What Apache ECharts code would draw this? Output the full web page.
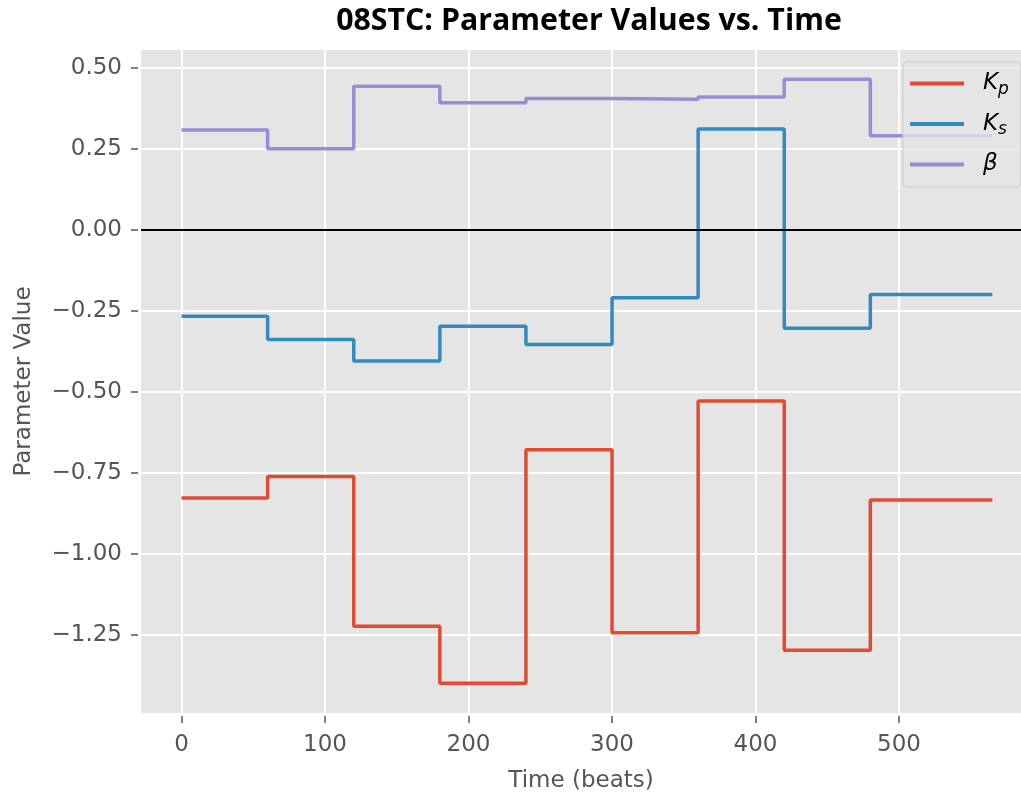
<!DOCTYPE html>
<html>
<head>
<meta charset="utf-8">
<script src="https://cdn.jsdelivr.net/npm/echarts@6/dist/echarts.min.js"></script>
<style>
html,body{margin:0;padding:0;background:#fff;}
#chart{width:1021px;height:796px;}
</style>
</head>
<body>
<div id="chart"></div>
<script>
// ---- data ----
const segmentStarts = [0, 60, 120, 180, 240, 300, 360, 420, 480];
const endTime = 565;
const kpValues   = [-0.828, -0.762, -1.224, -1.400, -0.679, -1.244, -0.529, -1.298, -0.834];
const ksValues   = [-0.267, -0.339, -0.405, -0.298, -0.354, -0.210, 0.311, -0.304, -0.200];
const betaValues = [0.308, 0.250, 0.443, 0.392, 0.405, 0.403, 0.410, 0.465, 0.290];
const xTicks = [0, 100, 200, 300, 400, 500];
const yTicks = [-1.25, -1.00, -0.75, -0.50, -0.25, 0.00, 0.25, 0.50];

function stepData(vals) {
  const d = segmentStarts.map((s, i) => [s, vals[i]]);
  d.push([endTime, vals[vals.length - 1]]);
  return d;
}

const chart = echarts.init(document.getElementById('chart'), null, {renderer: 'canvas'});
const tickFont = 'DejaVu Sans';
const gray = '#555555';

const option = {
  animation: false,
  backgroundColor: '#ffffff',
  title: {
    text: '08STC: Parameter Values vs. Time',
    left: 584, top: 1, textAlign: 'center',
    textStyle: {fontFamily: 'Open Sans', fontWeight: 'bold', fontSize: 30.3, color: '#000'}
  },
  grid: {left: 141, right: 0, top: 50, bottom: 83, show: true, backgroundColor: '#E5E5E5', borderWidth: 0,
    containLabel: false, outerBoundsMode: 'none'},
  legend: {
    left: 903, top: 62, orient: 'vertical',
    data: ['Kp', 'Ks', 'beta'],
    icon: 'rect', itemWidth: 54, itemHeight: 4, itemGap: 14.5,
    padding: [10, 12, 11, 7],
    backgroundColor: 'rgba(229,229,229,0.8)', borderColor: '#cccccc', borderWidth: 1, borderRadius: 4,
    formatter: function (n) {
      if (n === 'Kp') return '{k|K}{s|p}';
      if (n === 'Ks') return '{k|K}{s|s}';
      return '{k|β}';
    },
    textStyle: {
      color: '#000',
      rich: {
        k: {fontFamily: 'DejaVu Sans', fontStyle: 'italic', fontSize: 23, padding: [0, 0, 0, 14], height: 26},
        s: {fontFamily: 'DejaVu Sans', fontStyle: 'italic', fontSize: 17, padding: [12, 0, 0, 0]}
      }
    }
  },
  xAxis: {
    type: 'value', min: -28.25, max: 585, offset: 3,
    name: 'Time (beats)', nameLocation: 'middle', nameGap: 54, nameMoveOverlap: false,
    nameTextStyle: {fontFamily: tickFont, fontSize: 23, color: gray},
    axisLine: {show: false, onZero: false},
    axisTick: {show: true, length: 7, lineStyle: {color: gray, width: 1.5}, customValues: xTicks},
    axisLabel: {fontFamily: tickFont, fontSize: 23, color: gray, margin: 18, customValues: xTicks},
    splitLine: {show: true, lineStyle: {color: '#ffffff', width: 2}}
  },
  yAxis: {
    type: 'value', min: -1.492, max: 0.555, offset: 3,
    name: 'Parameter Value', nameLocation: 'middle', nameGap: 102, nameMoveOverlap: false,
    nameTextStyle: {fontFamily: tickFont, fontSize: 23, color: gray},
    axisLine: {show: false, onZero: false},
    axisTick: {show: true, length: 7, lineStyle: {color: gray, width: 1.5}, customValues: yTicks},
    axisLabel: {fontFamily: tickFont, fontSize: 23, color: gray, margin: 16, customValues: yTicks,
      formatter: v => (v < 0 ? '\u2212' : '') + Math.abs(v).toFixed(2)},
    splitLine: {show: true, lineStyle: {color: '#ffffff', width: 2}}
  },
  series: [
    {name: 'Kp', type: 'line', step: 'end', data: stepData(kpValues), showSymbol: false,
      lineStyle: {color: '#E24A33', width: 3.5}, itemStyle: {color: '#E24A33'}, z: 3},
    {name: 'Ks', type: 'line', step: 'end', data: stepData(ksValues), showSymbol: false,
      lineStyle: {color: '#348ABD', width: 3.5}, itemStyle: {color: '#348ABD'}, z: 3},
    {name: 'beta', type: 'line', step: 'end', data: stepData(betaValues), showSymbol: false,
      lineStyle: {color: '#988ED5', width: 3.5}, itemStyle: {color: '#988ED5'}, z: 3,
      markLine: {silent: true, symbol: 'none', label: {show: false},
        lineStyle: {color: '#000', width: 2, type: 'solid'}, data: [{yAxis: 0}]}}
  ]
};
chart.setOption(option);
</script>
</body>
</html>
